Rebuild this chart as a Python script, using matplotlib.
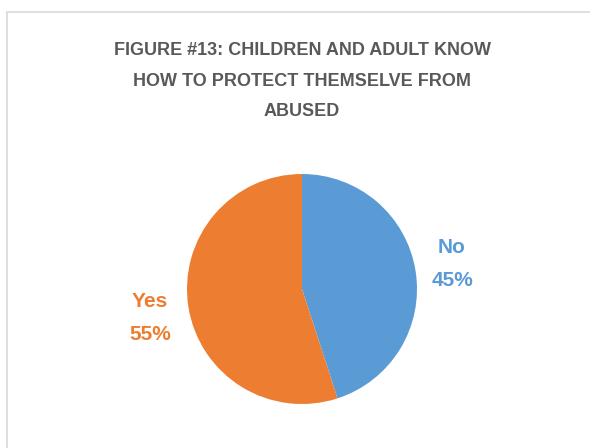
import matplotlib
matplotlib.use("Agg")
import matplotlib.pyplot as plt
from matplotlib.patches import Rectangle

labels = ["No", "Yes"]
shares = [45, 55]
colors = ["#5B9BD5", "#ED7D31"]
title = "FIGURE #13: CHILDREN AND ADULT KNOW\nHOW TO PROTECT THEMSELVE FROM\nABUSED"

W, H = 590, 448
fig = plt.figure(figsize=(W / 100, H / 100), dpi=100)
fig.patch.set_facecolor("white")

# chart border (light gray, runs off the right and bottom)
fig.patches.append(Rectangle((7 / W, -0.1), 1.2, 1.1 - 12 / H, transform=fig.transFigure,
                             fill=False, edgecolor="#D9D9D9", linewidth=1.2))

fig.text(302 / W, 1 - 42 / H, title, ha="center", va="top", fontsize=13,
         fontweight="bold", color="#595959", family="Liberation Sans", linespacing=2.05)

# pie axes: centre (302, 289) px, radius 115 px
r = 115
ax = fig.add_axes([(302 - r) / W, (H - 289 - r) / H, 2 * r / W, 2 * r / H])
ax.pie(shares, colors=colors, startangle=90, counterclock=False, radius=1,
       wedgeprops=dict(linewidth=0))
ax.set_xlim(-1, 1)
ax.set_ylim(-1, 1)
ax.set_aspect("auto")
ax.axis("off")

label_pos = [(452, 264), (150, 318)]
for lab, val, col, (x, y) in zip(labels, shares, colors, label_pos):
    fig.text(x / W, 1 - y / H, f"{lab}\n{val}%", ha="center", va="center", fontsize=15,
             fontweight="bold", color=col, family="Liberation Sans", linespacing=1.95)

fig.savefig("out.png", dpi=100)
